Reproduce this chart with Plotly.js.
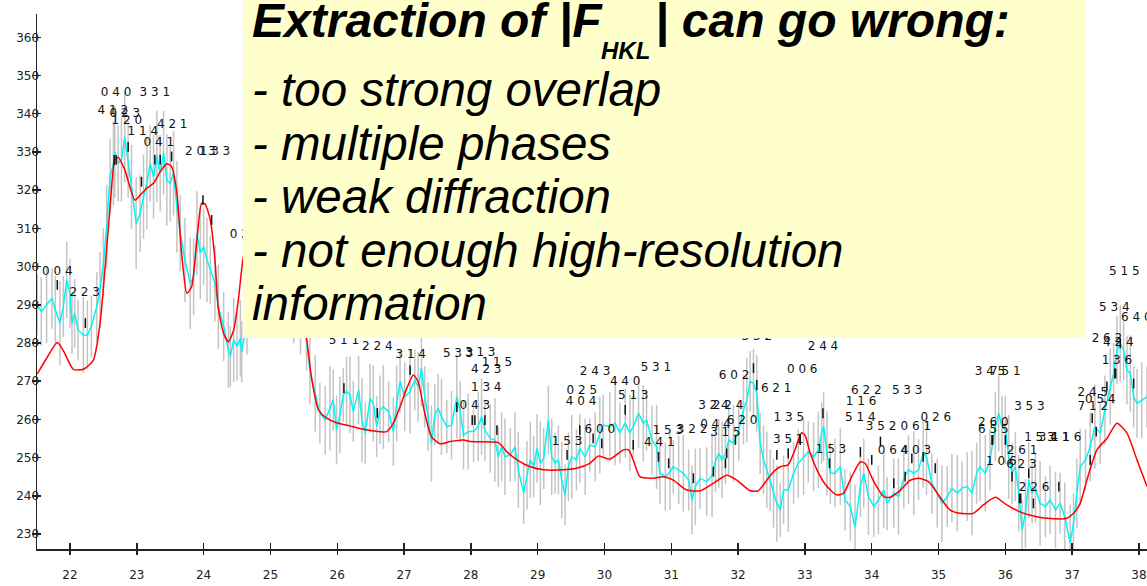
<!DOCTYPE html>
<html>
<head>
<meta charset="utf-8">
<script src="https://cdn.plot.ly/plotly-3.0.1.min.js"></script>
<style>
  html, body { margin: 0; padding: 0; background: #ffffff; }
  #chart { width: 1147px; height: 586px; }
</style>
</head>
<body>
<div id="chart"></div>
<script>
// ---------- observed profile (2theta, counts, esd) ----------
const obsX = [
  21.51,21.57,21.65,21.73,21.78,21.85,21.90,21.95,22.00,22.03,
  22.07,22.12,22.20,22.26,22.32,22.40,22.45,22.50,22.55,22.60,
  22.65,22.67,22.72,22.77,22.82,22.87,22.92,22.99,23.05,23.10,
  23.15,23.20,23.25,23.30,23.35,23.40,23.45,23.50,23.55,23.60,
  23.65,23.72,23.80,23.85,23.90,23.95,24.00,24.05,24.10,24.17,
  24.22,24.30,24.37,24.40,24.45,24.50,24.55,24.57,24.65,24.75,
  24.85,24.95,25.05,25.15,25.25,25.35,25.45,25.54,25.59,25.67,
  25.74,25.82,25.89,25.94,25.99,26.04,26.09,26.14,26.19,26.24,
  26.32,26.37,26.42,26.49,26.54,26.59,26.64,26.69,26.77,26.84,
  26.89,26.94,27.01,27.09,27.16,27.21,27.26,27.31,27.36,27.41,
  27.46,27.51,27.56,27.64,27.71,27.79,27.84,27.89,27.96,28.04,
  28.11,28.16,28.21,28.29,28.36,28.41,28.46,28.51,28.59,28.66,
  28.71,28.79,28.84,28.89,28.94,28.99,29.04,29.09,29.16,29.21,
  29.26,29.31,29.36,29.41,29.46,29.51,29.58,29.63,29.71,29.78,
  29.86,29.93,29.98,30.08,30.16,30.23,30.31,30.38,30.43,30.51,
  30.58,30.63,30.71,30.78,30.83,30.91,30.98,31.03,31.11,31.18,
  31.26,31.31,31.36,31.43,31.53,31.61,31.66,31.71,31.76,31.81,
  31.86,31.93,32.01,32.08,32.13,32.18,32.23,32.28,32.33,32.38,
  32.43,32.48,32.53,32.58,32.63,32.68,32.75,32.83,32.90,32.98,
  33.05,33.13,33.20,33.25,33.28,33.33,33.38,33.45,33.53,33.60,
  33.68,33.75,33.83,33.88,33.95,34.03,34.10,34.18,34.23,34.33,
  34.40,34.48,34.55,34.63,34.70,34.77,34.82,34.90,34.98,35.05,
  35.13,35.20,35.28,35.35,35.43,35.50,35.57,35.62,35.70,35.77,
  35.85,35.90,35.95,36.00,36.05,36.10,36.15,36.20,36.25,36.30,
  36.35,36.40,36.45,36.52,36.60,36.67,36.75,36.82,36.89,36.97,
  37.02,37.07,37.12,37.20,37.27,37.34,37.42,37.49,37.57,37.62,
  37.67,37.72,37.77,37.82,37.87,37.92,37.97,38.04,38.12
];
const obsY = [
  290,288.2,290,291.7,288.6,285.2,289.5,296.5,293,285.2,
  287.8,283.4,282.1,282.1,284.3,289.5,293.9,301,310.4,323.5,
  327,330,327,328,334,328,320.9,311.3,313.9,318.3,
  321.8,327,323.5,328.8,324.4,329.7,322.6,321.8,324.4,315.7,
  308.7,301.7,295.6,297.3,308.7,303.5,305.2,301.7,299.1,295.6,
  289.5,284.3,278.2,276.5,280.8,279.1,281.2,277.7,286,292,
  297,295,300,296,293,290,286,280.8,272.9,266.8,
  261.6,259.8,262.9,265.1,257.2,261.2,266.4,267.3,266.4,262.1,
  267.7,259.8,256.4,265.5,264.2,258.1,262.5,263.3,262,256.8,
  264.2,269.9,265.9,267.3,270.3,268.6,273.4,265.9,260.7,253.7,
  261.2,262.9,260.7,258.1,258.5,265.9,262,255.9,256.8,256.8,
  258.1,260.7,257.2,255,254.6,250.2,252.8,250.2,250.7,252.8,
  246.8,240.7,245.4,249.4,247.6,252.4,248.5,249.8,259.8,250.2,
  248.5,249.4,244.1,240.2,247.6,250.2,249.4,252.4,250.2,253.3,
  252.8,255.9,258.5,258.1,259,256.5,259,256.5,258.1,261.6,
  259,259.8,254.6,252.8,245.9,245,246.3,247.6,246.8,245.9,
  244.1,238.9,242.4,244.6,243.7,245.4,248.9,251.1,249.4,251.1,
  254.6,253.7,257.2,262.5,265.1,269.9,269.5,266.8,253.7,249.4,
  246.8,244.1,240.7,238,236.3,241.5,241.5,245.9,248.5,250.2,
  251.5,250.2,252,256.4,258.1,251.1,245.9,245.9,247.6,238.9,
  237.2,231.9,242.4,245.9,239.8,237.2,238.9,241.5,238,240.7,
  239.8,244.6,246.8,245.9,246.8,251.1,250.2,243.3,240.7,238,
  239.8,242,240.7,242,242.4,240.7,245.9,247.6,245.9,249.4,
  258.1,261.6,258.1,257.2,250.2,245.9,247.6,240.7,231,235.4,
  244.1,240.7,242,238,237.2,238.9,236.3,238,234.5,227.6,
  232.8,240.7,247.6,249.4,252.8,258.1,256.4,262.5,268.6,272,
  278.2,279.9,278.2,272.9,272,265.9,264.2,265,265.9
];
const obsErr = [
  8,9,10,8,9,11,8,10,9,8,
  9,8,10,9,8,9,10,9,11,10,
  11,12,10,11,12,10,11,12,10,11,
  12,10,11,12,10,11,12,10,11,12,
  10,11,12,10,11,12,10,11,9,10,
  11,9,10,8,11,9,10,8,9,10,
  9,10,9,10,9,10,9,8,9,10,
  8,9,11,8,9,10,7,9,10,8,
  9,11,8,9,10,8,9,11,8,9,
  10,8,9,11,8,9,10,8,9,10,
  8,9,10,7,9,11,8,9,10,8,
  9,10,8,9,11,8,9,10,7,9,
  10,8,9,10,8,9,11,8,9,10,
  8,9,10,8,9,11,8,9,10,7,
  9,10,8,9,11,8,9,10,8,9,
  10,8,9,11,8,9,10,7,9,10,
  8,9,10,8,9,11,8,9,10,8,
  9,10,8,9,11,8,9,10,8,9,
  10,8,9,10,7,9,11,8,9,10,
  8,9,10,8,9,11,8,9,10,8,
  9,11,8,9,10,8,9,10,7,9,
  10,8,9,11,8,9,10,8,9,10,
  8,9,10,7,9,11,8,9,10,8,
  9,10,8,9,11,8,9,10,8,9,
  10,8,9,11,8,9,10,8,9,10,
  8,9,10,8,9,11,8,9,10,8,
  9,10,8,9,10,8,9,10,8
];

// ---------- calculated profile ----------
const calcX = [
  21.51,21.65,21.81,21.90,22.05,22.20,22.35,22.45,22.50,22.60,
  22.67,22.72,22.82,22.97,23.05,23.15,23.25,23.35,23.45,23.52,
  23.60,23.67,23.75,23.82,23.90,23.97,24.02,24.10,24.17,24.22,
  24.30,24.37,24.45,24.52,24.59,24.70,24.85,25.00,25.15,25.30,
  25.45,25.54,25.62,25.72,25.84,25.99,26.19,26.39,26.74,26.84,
  26.94,27.04,27.14,27.21,27.31,27.41,27.54,27.69,27.89,27.99,
  28.41,28.54,28.69,28.89,29.09,29.38,29.58,29.78,29.91,30.08,
  30.28,30.36,30.43,30.53,30.73,30.88,31.03,31.23,31.43,31.63,
  31.83,31.98,32.18,32.30,32.43,32.53,32.63,32.75,32.85,32.95,
  33.00,33.08,33.18,33.33,33.48,33.58,33.70,33.83,33.90,34.03,
  34.18,34.27,34.43,34.57,34.70,34.85,35.00,35.17,35.32,35.52,
  35.67,35.85,36.02,36.22,36.42,36.62,36.92,37.02,37.12,37.22,
  37.37,37.52,37.67,37.82,37.97,38.12
];
const calcY = [
  271.9,276,280.1,278,273.1,273.1,275.5,285.2,294.5,315.6,
  327.9,328.6,325.3,317.4,318.7,320.5,321.8,324.8,326.9,326.2,
  319.3,303.5,293,294.7,307,316.6,316.4,312.2,301.7,289,
  282.5,280.3,283.4,291.3,302,310,314,311,306,299,
  290,281.2,270.3,262.5,260.3,259.1,258.3,257.4,256.8,259,
  263.3,268.1,271.6,269.9,261.6,255.5,253.6,254.2,254.6,254.2,
  253.9,251.5,249.4,247.6,246.8,246.8,247.2,248.5,250.4,249.6,
  252,252,249.4,245,244.6,245,244.1,241.5,241.3,243.3,
  245.4,244.1,241.3,241.3,244.1,246.3,247.6,248.1,252,256.5,
  255.9,251.1,246.8,242.4,240.2,240.7,245,248.9,248.5,243.7,
  239.8,239.6,241.5,244,244.6,243.7,240.2,236.3,235.4,235.4,
  237.6,239.6,237.6,235.8,234.7,234.1,234.1,235.4,238,244.1,
  252,255,259,256.4,249.4,242.4
];

// ---------- reflection markers ----------
const reflX = [
  21.81,22.23,22.66,22.69,22.87,23.07,23.27,23.35,23.52,23.99,
  24.12,26.10,26.60,27.09,27.79,28.02,28.06,28.21,28.39,29.44,
  29.63,29.83,29.96,30.31,30.43,30.81,30.96,31.33,31.63,31.81,
  31.83,31.96,32.23,32.28,32.58,32.75,32.93,33.27,33.37,33.83,
  34.00,34.13,34.33,34.50,34.60,34.77,34.95,35.80,35.81,36.00,
  36.10,36.21,36.23,36.35,36.42,36.80,37.27,37.30,37.36,37.52,
  37.64,37.65,37.72,37.92
];
const reflY = [
  295.2,285.2,327.9,327.9,331.3,322.2,328,328,328.8,317.4,
  312.2,268.2,261.7,272.9,263.2,259.8,259.8,259.8,257.2,250.7,
  257.2,255,253.7,262.5,253.3,250.2,248.5,244.6,246.3,248.5,
  251.1,254.6,273.4,269,250.7,251.1,254.6,261.6,248.5,251.5,
  249.4,254.2,243.3,245,249.8,250.2,247.2,254.6,254.6,254.6,
  245,239.3,239.3,245.9,238,242.4,249.4,260.3,256.8,268.6,
  272,272,279.9,269.4
];

// ---------- hkl labels ----------
const hklText = [
  "0 0 4","2 2 3","0 4 0","3 3 1","4 1 2","0 2 3","1 2 0","1 1 4","4 2 1","0 4 1",
  "2 0 3","1 3 3","0 2 4","5 1 1","2 2 4","3 1 4","5 3 3","3 1 3","1 1 5","4 2 3",
  "1 3 4","0 4 3","2 4 3","4 4 0","5 3 1","0 2 5","4 0 4","5 1 3","1 5 3","6 0 0",
  "4 4 1","1 5 3","3 2 2","3 2 4","2 2 4","0 4 4","6 2 0","3 1 5","6 0 2","6 2 1",
  "0 0 6","2 4 4","3 3 2","1 3 5","3 5 1","1 5 3","1 1 6","6 2 2","5 3 3","5 1 4",
  "3 5 2","0 6 1","0 2 6","0 6 4","4 0 3","3 4 5","7 5 1","3 5 3","2 6 0","6 5 5",
  "1 5 3","3 4 1","1 1 6","2 6 1","1 0 6","6 2 3","2 2 6","2 4 5","7 1 2","0 5 4",
  "5 1 5","5 3 4","6 4 0","2 6 2","4 2 4","1 3 6"
];
const hklX = [
  21.81,22.22,22.69,23.27,22.64,22.82,22.85,23.09,23.53,23.33,
  23.95,24.17,24.62,26.10,26.60,27.10,27.81,28.14,28.39,28.23,
  28.23,28.06,29.86,30.31,30.77,29.66,29.65,30.43,29.44,29.93,
  30.82,30.95,31.31,31.63,31.85,31.66,32.06,31.81,31.94,32.57,
  32.96,33.27,32.28,32.76,32.75,33.39,33.84,33.92,34.53,33.83,
  34.14,34.66,34.96,34.32,34.66,35.77,36.00,36.36,35.82,35.82,
  36.51,36.73,36.91,36.25,35.94,36.24,36.43,37.31,37.31,37.42,
  37.78,37.63,37.96,37.52,37.69,37.67
];
const hklY = [
  298.6,293.2,345.4,345.4,340.7,340.0,338.0,335.3,337.1,332.3,
  330.0,330.0,308.3,280.5,279.0,276.9,277.1,277.4,274.8,272.9,
  268.1,263.5,272.5,269.9,273.4,267.3,264.6,266.0,254.2,257.2,
  253.8,257.0,257.2,263.5,263.5,258.5,259.6,256.4,271.4,267.9,
  272.8,279.0,281.6,260.3,254.6,252.0,264.6,267.4,267.4,260.3,
  258.1,258.0,260.3,251.7,251.7,272.5,272.5,263.3,259.1,257.2,
  255.1,255.1,255.1,251.8,248.8,248.0,242.0,266.8,263.3,265.1,
  298.7,289.1,286.5,281.0,280.0,275.4
];

const xTicks = [22,23,24,25,26,27,28,29,30,31,32,33,34,35,36,37,38];
const yTicks = [230,240,250,260,270,280,290,300,310,320,330,340,350,360];

// ---------- overlay text ----------
const titleParts = ["Extraction of |F", "HKL", "| can go wrong:"];
const boxLines = [
  "- too strong overlap",
  "- multiple phases",
  "- weak diffraction",
  "- not enough high-resolution",
  "information"
];

// ---------- geometry helpers (pixel -> paper) ----------
const W = 1147, H = 586;
const M = {l: 37, r: 0, t: 14, b: 37};
const PW = W - M.l - M.r, PH = H - M.t - M.b;
const px = v => (v - M.l) / PW;
const py = v => (H - M.b - v) / PH;

const xRange = [21.506, 38.12];
const yRange = [226.07, 366.1];

const axisFont = {family: "DejaVu Sans", size: 12, color: "#222"};

const traces = [
  { // esd bars
    type: "scatter", mode: "markers", x: obsX, y: obsY,
    marker: {size: 1, opacity: 0},
    error_y: {type: "data", array: obsErr, visible: true, color: "rgb(196,196,196)", thickness: 1.5, width: 0},
    hoverinfo: "skip", showlegend: false
  },
  { // observed
    type: "scatter", mode: "lines", x: obsX, y: obsY,
    line: {color: "#00F5F5", width: 1.5},
    showlegend: false
  },
  { // calculated
    type: "scatter", mode: "lines", x: calcX, y: calcY,
    line: {color: "#FF0000", width: 1.5, shape: "spline", smoothing: 0.6},
    showlegend: false
  },
  { // reflection markers (on overlay axes with identical ranges)
    type: "scatter", mode: "markers", x: reflX, y: reflY, xaxis: "x2", yaxis: "y2",
    marker: {symbol: "line-ns", size: 7, line: {color: "#111", width: 1.5}},
    showlegend: false
  },
  { // hkl labels
    type: "scatter", mode: "text", x: hklX, y: hklY, text: hklText,
    textposition: "middle center",
    textfont: {family: "DejaVu Sans", size: 12, color: "#111"},
    showlegend: false
  }
];

const annotations = [];
const titleFont = {family: "Liberation Sans, Arial, sans-serif", size: 48, color: "#000"};
const bodyFont = {family: "Liberation Sans, Arial, sans-serif", size: 47.5, color: "#000"};
annotations.push({xref: "paper", yref: "paper", x: px(250), y: py(20.5), xanchor: "left", yanchor: "middle",
  text: "<b><i>" + titleParts[0] + "</i></b>", showarrow: false, font: titleFont});
annotations.push({xref: "paper", yref: "paper", x: px(599), y: py(50), xanchor: "left", yanchor: "middle",
  text: "<b><i>" + titleParts[1] + "</i></b>", showarrow: false, font: Object.assign({}, titleFont, {size: 24})});
annotations.push({xref: "paper", yref: "paper", x: px(653), y: py(20.5), xanchor: "left", yanchor: "middle",
  text: "<b><i>" + titleParts[2] + "</i></b>", showarrow: false, font: titleFont});
const lineCenters = [89.5, 143.5, 196.5, 250.5, 303.5];
boxLines.forEach((t, i) => {
  annotations.push({xref: "paper", yref: "paper", x: px(250), y: py(lineCenters[i]), xanchor: "left", yanchor: "middle",
    text: "<i>" + t + "</i>", showarrow: false, font: bodyFont});
});

const layout = {
  width: W, height: H,
  margin: {l: M.l, r: M.r, t: M.t, b: M.b, pad: 0},
  paper_bgcolor: "#ffffff", plot_bgcolor: "#ffffff",
  showlegend: false, hovermode: false,
  xaxis: {
    range: xRange, tickmode: "array", tickvals: xTicks, ticktext: xTicks.map(String),
    ticks: "outside", ticklen: 4, tickwidth: 1.5, tickcolor: "#222",
    showline: true, linecolor: "#222", linewidth: 1.5,
    showgrid: false, zeroline: false, tickfont: axisFont, ticklabelstandoff: 10
  },
  xaxis2: {
    range: xRange, overlaying: "x", side: "bottom", tickmode: "array", tickvals: xTicks,
    ticks: "inside", ticklen: 6, tickwidth: 1.5, tickcolor: "#222",
    showticklabels: false, showline: false, showgrid: false, zeroline: false
  },
  yaxis: {
    range: yRange, tickmode: "array", tickvals: yTicks, ticktext: yTicks.map(String),
    ticks: "outside", ticklen: 4, tickwidth: 1.5, tickcolor: "#222",
    showline: true, linecolor: "#222", linewidth: 1.5,
    showgrid: false, zeroline: false, tickfont: axisFont, ticklabelstandoff: -10
  },
  yaxis2: {
    range: yRange, overlaying: "y", side: "left", tickmode: "array", tickvals: yTicks,
    ticks: "inside", ticklen: 4, tickwidth: 1.5, tickcolor: "#222",
    showticklabels: false, showline: false, showgrid: false, zeroline: false
  },
  shapes: [{
    type: "rect", xref: "paper", yref: "paper", layer: "above",
    x0: px(243), x1: px(1085), y0: py(338), y1: py(0),
    fillcolor: "#FFFFCC", line: {width: 0}
  }],
  annotations: annotations
};

Plotly.newPlot("chart", traces, layout, {displayModeBar: false, staticPlot: true});
</script>
</body>
</html>
